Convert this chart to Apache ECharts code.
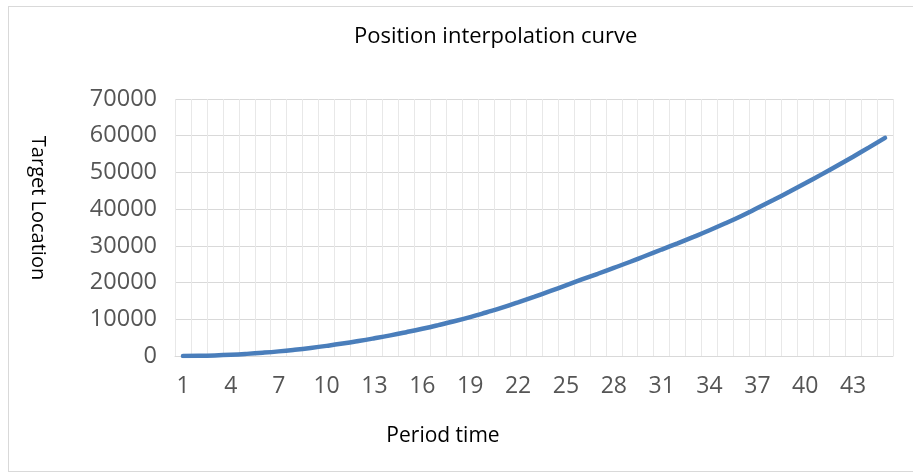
<!DOCTYPE html>
<html>
<head>
<meta charset="utf-8">
<script src="https://cdn.jsdelivr.net/npm/echarts@6/dist/echarts.min.js"></script>
<style>
html,body{margin:0;padding:0;background:#fff;}
#frame{position:absolute;left:8px;top:6px;width:910px;height:464px;border-left:1px solid #d9d9d9;border-top:1px solid #d9d9d9;border-bottom:1px solid #d9d9d9;}
#chart{position:absolute;left:0;top:0;width:913px;height:473px;}
</style>
</head>
<body>
<div id="frame"></div>
<div id="chart"></div>
<script>
const titleText = 'Position interpolation curve';
const xName = 'Period time';
const yName = 'Target Location';
const periods = [];
for (let i = 1; i <= 45; i++) periods.push(String(i));
const positions = [0, 40, 150, 330, 580, 890, 1260, 1700, 2200, 2760,
  3380, 4070, 4820, 5620, 6490, 7410, 8400, 9450, 10600, 11850,
  13150, 14600, 16100, 17650, 19250, 20850, 22400, 24000, 25600, 27300,
  29000, 30700, 32450, 34250, 36150, 38150, 40290, 42480, 44730, 47040,
  49400, 51820, 54290, 56820, 59400];

const chart = echarts.init(document.getElementById('chart'));
const font = '"Open Sans", sans-serif';
chart.setOption({
  animation: false,
  title: {
    text: titleText, left: 349, top: 21,
    textStyle: {fontFamily: font, fontSize: 22, fontWeight: 'normal', color: '#000'}
  },
  graphic: [
    {type: 'text', x: 38, y: 208, rotation: -Math.PI / 2,
     style: {text: yName, fontFamily: font, fontSize: 20, fill: '#000', textAlign: 'center', textVerticalAlign: 'middle'}},
    {type: 'text', x: 443, y: 436,
     style: {text: xName, fontFamily: font, fontSize: 21, fill: '#000', textAlign: 'center', textVerticalAlign: 'middle'}}
  ],
  grid: {left: 175, right: 20, top: 99, bottom: 117},
  xAxis: {
    type: 'category', data: periods, boundaryGap: true,
    axisLine: {lineStyle: {color: '#d9d9d9'}},
    axisTick: {show: false},
    axisLabel: {interval: 2, margin: 19, fontFamily: font, fontSize: 23, color: '#555'},
    splitLine: {show: true, interval: 0, lineStyle: {color: '#e8e8e8', width: 1}}
  },
  yAxis: {
    type: 'value', min: 0, max: 70000, interval: 10000,
    axisLine: {show: false}, axisTick: {show: false},
    axisLabel: {margin: 18, fontFamily: font, fontSize: 23.5, color: '#555',
      formatter: function (v) { return String(v); }},
    splitLine: {lineStyle: {color: '#d9d9d9', width: 1}}
  },
  series: [{
    type: 'line', data: positions, smooth: true, showSymbol: false,
    lineStyle: {color: '#4a7ebb', width: 4.5, cap: 'round'}
  }]
});
</script>
</body>
</html>
